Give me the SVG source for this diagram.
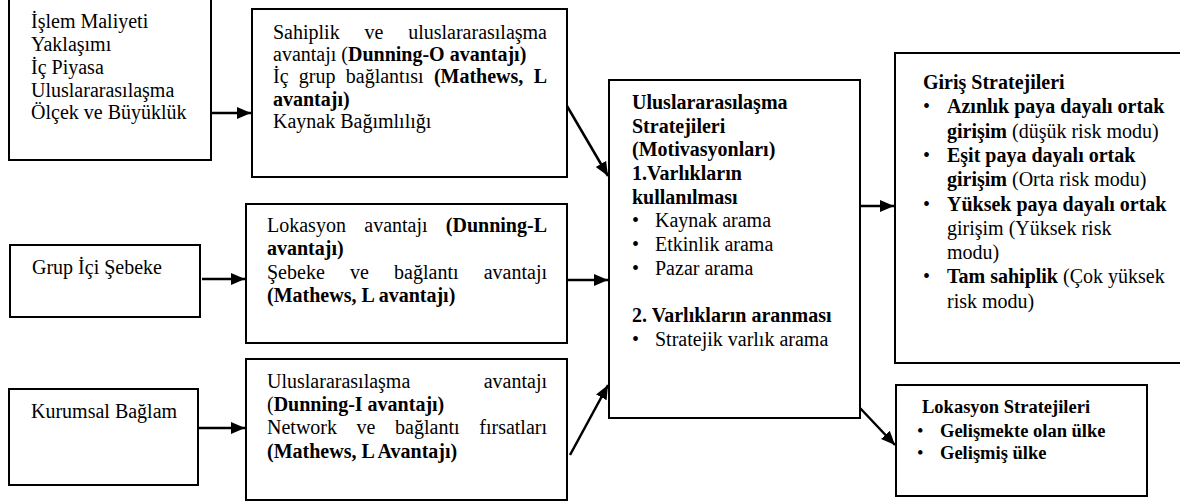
<svg xmlns="http://www.w3.org/2000/svg" width="1180" height="504" viewBox="0 0 1180 504">
  <style>
    .t { font-family: "Liberation Serif", "Times New Roman", serif; font-size: 20px; fill: #000; }
    .s { font-size: 18.5px; }
    .b { font-weight: bold; }
    .box { fill: #fff; stroke: #000; stroke-width: 2; }
    .conn { stroke: #000; stroke-width: 2.5; fill: none; marker-end: url(#ah); }
  </style>
  <defs>
    <marker id="ah" markerUnits="userSpaceOnUse" markerWidth="14" markerHeight="14" viewBox="0 0 14 14" refX="14" refY="7" orient="auto">
      <path d="M0,1 L14,7 L0,13 Z" fill="#000"/>
    </marker>
  </defs>

  <rect width="1180" height="504" fill="#fff"/>

  <!-- Factors -->
  <g id="node-faktorler">
    <rect class="box" x="9" y="-3" width="202" height="163"/>
    <text class="t" x="31" y="28">İşlem Maliyeti</text>
    <text class="t" x="31" y="51">Yaklaşımı</text>
    <text class="t" x="31" y="74">İç Piyasa</text>
    <text class="t" x="31" y="97">Uluslararasılaşma</text>
    <text class="t" x="31" y="119">Ölçek ve Büyüklük</text>
  </g>

  <g id="node-grup">
    <rect class="box" x="10" y="245" width="190" height="72"/>
    <text class="t" x="32" y="274">Grup İçi Şebeke</text>
  </g>

  <g id="node-kurumsal">
    <rect class="box" x="9" y="389" width="189" height="96"/>
    <text class="t" x="31" y="418">Kurumsal Bağlam</text>
  </g>

  <!-- Advantages -->
  <g id="node-sahiplik">
    <rect class="box" x="252" y="9" width="315" height="168"/>
    <text class="t" x="273" y="39">Sahiplik</text>
    <text class="t" x="364.5" y="39">ve</text>
    <text class="t" x="547" y="39" text-anchor="end">uluslararasılaşma</text>
    <text class="t" x="273" y="61">avantajı (<tspan class="b">Dunning-O avantajı)</tspan></text>
    <text class="t" x="273" y="83">İç</text>
    <text class="t" x="298.8" y="83">grup</text>
    <text class="t" x="345.8" y="83">bağlantısı</text>
    <text class="t b" x="433.9" y="83">(Mathews,</text>
    <text class="t b" x="547" y="83" text-anchor="end">L</text>
    <text class="t b" x="273" y="106">avantajı)</text>
    <text class="t" x="273" y="128">Kaynak Bağımlılığı</text>
  </g>

  <g id="node-lokasyon-avantaji">
    <rect class="box" x="246" y="204" width="321" height="139"/>
    <text class="t" x="267" y="232">Lokasyon</text>
    <text class="t" x="364.3" y="232">avantajı</text>
    <text class="t b" x="547" y="232" text-anchor="end">(Dunning-L</text>
    <text class="t b" x="267" y="255">avantajı)</text>
    <text class="t" x="267" y="279">Şebeke</text>
    <text class="t" x="350" y="279">ve</text>
    <text class="t" x="394.1" y="279">bağlantı</text>
    <text class="t" x="547" y="279" text-anchor="end">avantajı</text>
    <text class="t b" x="267" y="302">(Mathews, L avantajı)</text>
  </g>

  <g id="node-uluslararasilasma-avantaji">
    <rect class="box" x="246" y="359" width="321" height="141"/>
    <text class="t" x="267" y="388">Uluslararasılaşma</text>
    <text class="t" x="547" y="388" text-anchor="end">avantajı</text>
    <text class="t" x="267" y="411">(<tspan class="b">Dunning-I avantajı)</tspan></text>
    <text class="t" x="267" y="434">Network</text>
    <text class="t" x="356.6" y="434">ve</text>
    <text class="t" x="395.1" y="434">bağlantı</text>
    <text class="t" x="547" y="434" text-anchor="end">fırsatları</text>
    <text class="t b" x="267" y="458">(Mathews, L Avantajı)</text>
  </g>

  <!-- Strategies -->
  <g id="node-stratejiler">
    <rect class="box" x="609" y="80" width="251" height="338"/>
    <text class="t b" x="632" y="109">Uluslararasılaşma</text>
    <text class="t b" x="632" y="133">Stratejileri</text>
    <text class="t b" x="632" y="156">(Motivasyonları)</text>
    <text class="t b" x="632" y="180">1.Varlıkların</text>
    <text class="t b" x="632" y="204">kullanılması</text>
    <text class="t" x="632" y="227">•</text>
    <text class="t" x="655" y="227">Kaynak arama</text>
    <text class="t" x="632" y="251">•</text>
    <text class="t" x="655" y="251">Etkinlik arama</text>
    <text class="t" x="632" y="275">•</text>
    <text class="t" x="655" y="275">Pazar arama</text>
    <text class="t b" x="632" y="322">2. Varlıkların aranması</text>
    <text class="t" x="632" y="346">•</text>
    <text class="t" x="655" y="346">Stratejik varlık arama</text>
  </g>

  <g id="node-giris">
    <rect class="box" x="895" y="53" width="295" height="310"/>
    <text class="t b" x="923" y="89">Giriş Stratejileri</text>
    <text class="t" x="923" y="113">•</text>
    <text class="t b" x="947" y="113">Azınlık paya dayalı ortak</text>
    <text class="t" x="947" y="138"><tspan class="b">girişim</tspan> (düşük risk modu)</text>
    <text class="t" x="923" y="162">•</text>
    <text class="t b" x="947" y="162">Eşit paya dayalı ortak</text>
    <text class="t" x="947" y="186"><tspan class="b">girişim</tspan> (Orta risk modu)</text>
    <text class="t" x="923" y="211">•</text>
    <text class="t b" x="947" y="211">Yüksek paya dayalı ortak</text>
    <text class="t" x="947" y="235">girişim (Yüksek risk</text>
    <text class="t" x="947" y="259">modu)</text>
    <text class="t" x="923" y="283">•</text>
    <text class="t" x="947" y="283"><tspan class="b">Tam sahiplik</tspan> (Çok yüksek</text>
    <text class="t" x="947" y="308">risk modu)</text>
  </g>

  <g id="node-lokasyon-stratejileri">
    <rect class="box" x="896" y="385" width="251" height="111"/>
    <text class="t s b" x="922" y="413">Lokasyon Stratejileri</text>
    <text class="t s" x="917" y="437">•</text>
    <text class="t s b" x="940" y="437">Gelişmekte olan ülke</text>
    <text class="t s" x="917" y="459">•</text>
    <text class="t s b" x="940" y="459">Gelişmiş ülke</text>
  </g>

  <!-- Connectors -->
  <g id="connectors">
    <path class="conn" d="M211,113 L251,113"/>
    <path class="conn" d="M202,279 L245,279"/>
    <path class="conn" d="M199,428 L245,428"/>
    <path class="conn" d="M567,106 L608,176"/>
    <path class="conn" d="M567,280 L608,280"/>
    <path class="conn" d="M570,455 L608,385"/>
    <path class="conn" d="M860,206 L894,206"/>
    <path class="conn" d="M860,408 L895,445"/>
  </g>
</svg>
